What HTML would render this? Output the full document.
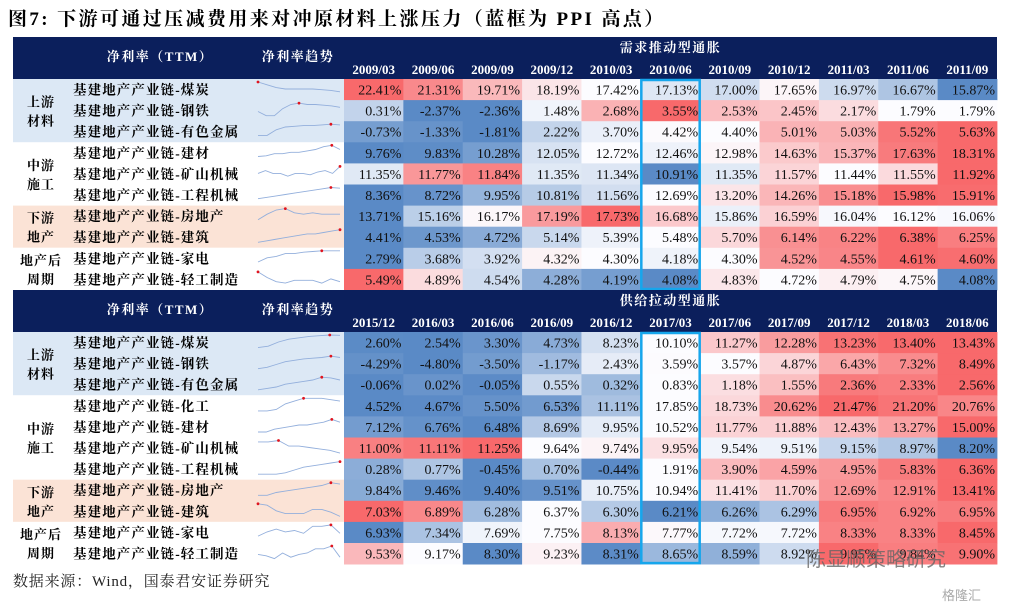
<!DOCTYPE html>
<html><head><meta charset="utf-8">
<style>
html,body{margin:0;padding:0;background:#fff;width:1013px;height:608px;overflow:hidden}
svg{display:block}
</style></head>
<body>
<svg id="chart" width="1013" height="608" viewBox="0 0 1013 608" xmlns="http://www.w3.org/2000/svg">
<text x="8" y="25" font-family="'Liberation Serif','Noto Serif CJK SC',serif" font-weight="bold" font-size="19" letter-spacing="2.4" fill="#000">图7:  下游可通过压减费用来对冲原材料上涨压力（蓝框为 PPI 高点）</text>
<text x="13" y="586" font-family="'Liberation Serif','Noto Serif CJK SC',serif" font-size="15" letter-spacing="0.8" fill="#222">数据来源：Wind，国泰君安证券研究</text>
<g id="layer"></g>
<text x="806" y="566" font-family="'Liberation Sans','Noto Sans CJK SC',sans-serif" font-size="20" fill="#666" opacity="0.8">陈显顺策略研究</text>
<text x="942" y="600" font-family="'Liberation Sans','Noto Sans CJK SC',sans-serif" font-size="13" fill="#aaa">格隆汇</text>
</svg>
<script>
// ---- data ----
const topDates = ["2009/03","2009/06","2009/09","2009/12","2010/03","2010/06","2010/09","2010/12","2011/03","2011/06","2011/09"];
const botDates = ["2015/12","2016/03","2016/06","2016/09","2016/12","2017/03","2017/06","2017/09","2017/12","2018/03","2018/06"];
const topNames = ["基建地产产业链-煤炭","基建地产产业链-钢铁","基建地产产业链-有色金属","基建地产产业链-建材","基建地产产业链-矿山机械","基建地产产业链-工程机械","基建地产产业链-房地产","基建地产产业链-建筑","基建地产产业链-家电","基建地产产业链-轻工制造"];
const botNames = ["基建地产产业链-煤炭","基建地产产业链-钢铁","基建地产产业链-有色金属","基建地产产业链-化工","基建地产产业链-建材","基建地产产业链-矿山机械","基建地产产业链-工程机械","基建地产产业链-房地产","基建地产产业链-建筑","基建地产产业链-家电","基建地产产业链-轻工制造"];
const topValues = [
[22.41,21.31,19.71,18.19,17.42,17.13,17.00,17.65,16.97,16.67,15.87],
[0.31,-2.37,-2.36,1.48,2.68,3.55,2.53,2.45,2.17,1.79,1.79],
[-0.73,-1.33,-1.81,2.22,3.70,4.42,4.40,5.01,5.03,5.52,5.63],
[9.76,9.83,10.28,12.05,12.72,12.46,12.98,14.63,15.37,17.63,18.31],
[11.35,11.77,11.84,11.35,11.34,10.91,11.35,11.57,11.44,11.55,11.92],
[8.36,8.72,9.95,10.81,11.56,12.69,13.20,14.26,15.18,15.98,15.91],
[13.71,15.16,16.17,17.19,17.73,16.68,15.86,16.59,16.04,16.12,16.06],
[4.41,4.53,4.72,5.14,5.39,5.48,5.70,6.14,6.22,6.38,6.25],
[2.79,3.68,3.92,4.32,4.30,4.18,4.30,4.52,4.55,4.61,4.60],
[5.49,4.89,4.54,4.28,4.19,4.08,4.83,4.72,4.79,4.75,4.08]];
const botValues = [
[2.60,2.54,3.30,4.73,8.23,10.10,11.27,12.28,13.23,13.40,13.43],
[-4.29,-4.80,-3.50,-1.17,2.43,3.59,3.57,4.87,6.43,7.32,8.49],
[-0.06,0.02,-0.05,0.55,0.32,0.83,1.18,1.55,2.36,2.33,2.56],
[4.52,4.67,5.50,6.53,11.11,17.85,18.73,20.62,21.47,21.20,20.76],
[7.12,6.76,6.48,8.69,9.95,10.52,11.77,11.88,12.43,13.27,15.00],
[11.00,11.11,11.25,9.64,9.74,9.95,9.54,9.51,9.15,8.97,8.20],
[0.28,0.77,-0.45,0.70,-0.44,1.91,3.90,4.59,4.95,5.83,6.36],
[9.84,9.46,9.40,9.51,10.75,10.94,11.41,11.70,12.69,12.91,13.41],
[7.03,6.89,6.28,6.37,6.30,6.21,6.26,6.29,6.95,6.92,6.95],
[6.93,7.34,7.69,7.75,8.13,7.77,7.72,7.72,8.33,8.33,8.45],
[9.53,9.17,8.30,9.23,8.31,8.65,8.59,8.92,9.95,9.84,9.90]];
const topSpark = [
[10,8,6,5,5,5,5,4.5,4,3],[4,1,1,6,9,10,9,9,8.5,8,7],[2,2,6,8,8.5,9,9,9.5,10,9.5],
[2,2.5,4,4,5,5,6,7,9,10,7],[5,7,5,5,3,5,5,4,6,7,5,10],[2,3,4,5,6,7,8,9,10,9.5],
[2,6,9,10,7,6,7,6,6,6],[1,2,3,4,5,6,7,7,8,9,10],[2,5,6,8,8,9,9.5,10,10,10],[10,6,3,2,4,4,4,2,5,3]];
const botSpark = [
[1,2,5,7,8,9,9.5,10,9.8],[1,2,4,6,7,8,8.5,9,10,9],[1,2,3,5,6,7,8,10,9.5,8],
[1,1,2,6,8,10,10,10,9,8],[1,1,3,4,5,6,6,7,8,10,8],[9,9,10,6,6,5,4,3,1],
[1,1,1,2,4,6,7,8,9,10],[1,1,3,4,5,6,7,8,10,9],[10,9,5,3,3,3,6,6,4,1],
[2,5,7,5,6,4,9,9,10,4],[4,3,1,5,2,4,5,8,8,10,2]];
const topGroups = [["上游","材料",0,3,"#dce8f5"],["中游","施工",3,6,"#ffffff"],["下游","地产",6,8,"#fbe3d6"],["地产后","周期",8,10,"#ffffff"]];
const botGroups = [["上游","材料",0,3,"#dce8f5"],["中游","施工",3,7,"#ffffff"],["下游","地产",7,9,"#fbe3d6"],["地产后","周期",9,11,"#ffffff"]];
const topSpan = "需求推动型通胀";
const botSpan = "供给拉动型通胀";
const topPPI = 5, botPPI = 5;

// ---- drawing ----
const NS = "http://www.w3.org/2000/svg";
const layer = document.getElementById("layer");
const X0 = 13, X1 = 997, DX = 344, COLW = (X1 - DX) / 11, ROWH = 21.1;
const SERIF = "'Liberation Serif','Noto Serif CJK SC',serif";
function mk(tag, attrs, parent) {
  const e = document.createElementNS(NS, tag);
  for (const k in attrs) e.setAttribute(k, attrs[k]);
  (parent || layer).appendChild(e);
  return e;
}
function mix(a, b, t) {
  const r = a.map((v, i) => Math.round(v + (b[i] - v) * t));
  return "rgb(" + r.join(",") + ")";
}
const BLUE = [90,138,198], WHITE = [252,252,255], RED = [248,105,107];
function colorFor(row, v) {
  const s = row.slice().sort((a, b) => a - b);
  const med = s[Math.floor(s.length / 2)], mn = s[0], mx = s[s.length - 1];
  if (v <= med) return mix(WHITE, BLUE, med === mn ? 0 : (med - v) / (med - mn));
  return mix(WHITE, RED, mx === med ? 0 : (v - med) / (mx - med));
}
function colX(i) { return DX + i * COLW; }

function section(hTop, hH, dates, names, values, spark, groups, span, ppi, tag) {
  const rTop = hTop + hH;
  const hdr = mk("rect", {x: X0, y: hTop, width: X1 - X0, height: hH, fill: "#0b1f5c"});
  
  
  const st = mk("text", {x: colX(5.5), y: hTop + 15, "text-anchor": "middle", "font-family": SERIF, "font-weight": "bold", "font-size": 13, "letter-spacing": 1.5, fill: "#fff"});
  st.textContent = span;
  
  
  const h1 = mk("text", {x: 160, y: hTop + 24, "text-anchor": "middle", "font-family": SERIF, "font-weight": "bold", "font-size": 13, "letter-spacing": 1.5, fill: "#fff"});
  h1.textContent = "净利率（TTM）";
  
  
  const h2 = mk("text", {x: 298, y: hTop + 24, "text-anchor": "middle", "font-family": SERIF, "font-weight": "bold", "font-size": 13, "letter-spacing": 1.5, fill: "#fff"});
  h2.textContent = "净利率趋势";
  
  
  dates.forEach((d, i) => {
    const t = mk("text", {x: colX(i) + COLW / 2, y: hTop + 37, "text-anchor": "middle", "font-family": SERIF, "font-weight": "bold", "font-size": 13, fill: "#fff"});
    t.textContent = d;
    
    
  });
  groups.forEach(g => {
    const y0 = rTop + g[2] * ROWH, y1 = rTop + g[3] * ROWH;
    const band = mk("rect", {x: X0, y: y0, width: DX - X0, height: y1 - y0, fill: g[4]});
    
    
    const cy = (y0 + y1) / 2;
    [g[0], g[1]].forEach((s, k) => {
      const t = mk("text", {x: 41, y: cy - 4 + k * 19, "text-anchor": "middle", "font-family": SERIF, "font-weight": "bold", "font-size": 13, "letter-spacing": 1, fill: "#000"});
      t.textContent = s;
      
      
    });
  });
  names.forEach((n, r) => {
    const y = rTop + r * ROWH;
    const t = mk("text", {x: 73, y: y + 15.5, "font-family": SERIF, "font-weight": "bold", "font-size": 13.5, "letter-spacing": 1.1, fill: "#000"});
    t.textContent = n;
    
    
    // sparkline
    const sp = spark[r], sx0 = 258, sx1 = 340, sy0 = y + 3, sy1 = y + 17;
    const px = i => sx0 + i * (sx1 - sx0) / (sp.length - 1);
    const py = v => sy1 - (v / 10) * (sy1 - sy0);
    const pl = mk("polyline", {points: sp.map((v, i) => px(i) + "," + py(v)).join(" "), fill: "none", stroke: "#93afdc", "stroke-width": 0.9});
    
    
    let mi = 0; sp.forEach((v, i) => { if (v > sp[mi]) mi = i; });
    const dot = mk("circle", {cx: px(mi), cy: py(sp[mi]), r: 1.4, fill: "#e0141e"});
    
    
    values[r].forEach((v, c) => {
      const cell = mk("rect", {x: colX(c), y: y, width: COLW + 0.4, height: ROWH + 0.4, fill: colorFor(values[r], v)});
      
      
      const vt = mk("text", {x: colX(c) + COLW - 2, y: y + 15.5, "text-anchor": "end", "font-family": SERIF, "font-size": 14, fill: "#111"});
      vt.textContent = v.toFixed(2) + "%";
      
      
    });
  });
  const box = mk("rect", {x: colX(ppi) + 0.5, y: rTop + 1, width: COLW - 1, height: names.length * ROWH - 2, fill: "none", stroke: "#16a6ec", "stroke-width": 2.5});
  
  
}
section(37, 42, topDates, topNames, topValues, topSpark, topGroups, topSpan, topPPI, "demand");
section(290, 42, botDates, botNames, botValues, botSpark, botGroups, botSpan, botPPI, "supply");
</script>
</body></html>
